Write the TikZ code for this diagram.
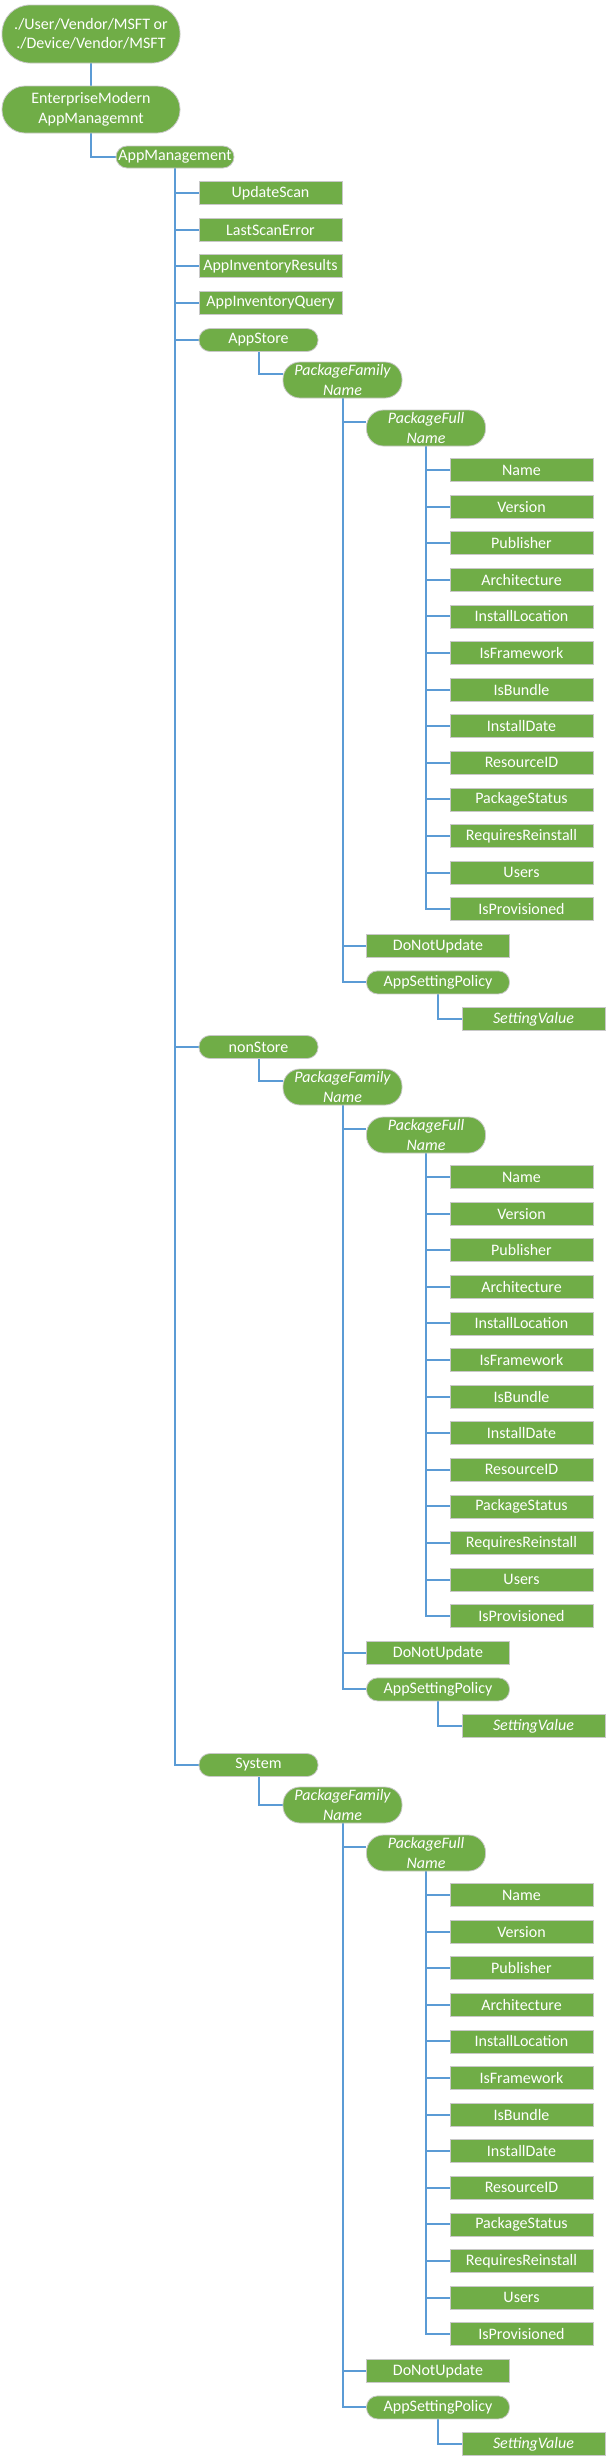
\documentclass[tikz,border=0pt]{standalone}
\usepackage{fontspec}
\setmainfont{Carlito}
\usepackage{tikz}
\usetikzlibrary{backgrounds}

\definecolor{nodegreen}{RGB}{112,173,71}
\definecolor{nodeedge}{RGB}{200,200,200}
\definecolor{linkblue}{RGB}{91,155,213}

\tikzset{
  box/.style={draw=nodeedge, line width=0.8pt, fill=nodegreen, text=white, inner sep=0pt,
    minimum width=143pt, minimum height=23pt, align=center, font=\fontsize{16}{19.5}\selectfont},
  pill/.style={box, rounded corners=11pt, minimum width=119pt},
  tallpill/.style={pill, minimum height=36pt, rounded corners=17pt, font=\fontsize{16}{19.5}\selectfont\itshape},
  link/.style={draw=linkblue, line width=2pt},
}

\begin{document}
\begin{tikzpicture}[x=1pt, y=-1pt]
        \useasboundingbox (0,0) rectangle (607,2463);
        % top of the tree
        \node[pill, minimum width=178pt, minimum height=58pt, rounded corners=28pt] (root) at (91,34) {./User/Vendor/MSFT or\\./Device/Vendor/MSFT};
        \node[pill, minimum width=178pt, minimum height=47pt, rounded corners=23pt] (ent) at (91,109.5) {EnterpriseModern\\AppManagemnt};
        \node[pill, minimum width=118pt, minimum height=22pt] (appm) at (175,157) {AppManagement};
        \begin{scope}[on background layer]
                \draw[link] (root) -- (ent);
                \draw[link] (ent.south) |- (appm.west);
        \end{scope}
        % plain settings
        \foreach \y/\nm/\txt in {193/scan/UpdateScan, 230/err/LastScanError, 266/invres/AppInventoryResults, 303/invq/AppInventoryQuery} {
                \node[box] (\nm) at (270.5,\y) {\txt};
                \begin{scope}[on background layer]
                        \draw[link] (appm.south) |- (\nm.west);
                \end{scope}
        }
        % three package groups
        \foreach \s/\grp/\txt/\off in {340/store/AppStore/6, 1047/nonstore/nonStore/6, 1765/system/System/0} {
                \node[pill] (\grp) at (258.5,\s) {\txt};
                \node[tallpill] (\grp-fam) at (342.5,\s+40) {PackageFamily\\Name};
                \node[tallpill] (\grp-full) at (426,\s+88) {PackageFull\\Name};
                \foreach \leaf [count=\k from 0] in {Name, Version, Publisher, Architecture, InstallLocation, IsFramework, IsBundle, InstallDate, ResourceID, PackageStatus, RequiresReinstall, Users, IsProvisioned} {
                        \node[box] (\grp-leaf\k) at (521.5,\s+130+36.6*\k) {\leaf};
                        \begin{scope}[on background layer]
                                \draw[link] (\grp-full.south) |- (\grp-leaf\k.west);
                        \end{scope}
                }
                \node[box] (\grp-dnu) at (438,\s+130+36.6*13) {DoNotUpdate};
                \node[pill, minimum width=143pt] (\grp-asp) at (438,\s+130+36.6*14) {AppSettingPolicy};
                \node[box, font=\fontsize{16}{19.5}\selectfont\itshape] (\grp-val) at (533.5,\s+130+36.6*15) {SettingValue};
                \begin{scope}[on background layer]
                        \draw[link] (appm.south) |- (\grp.west);
                        \draw[link] (\grp.south) |- ([yshift=\off pt]\grp-fam.west);
                        \draw[link] (\grp-fam.south) |- ([yshift=6pt]\grp-full.west);
                        \draw[link] (\grp-fam.south) |- (\grp-dnu.west);
                        \draw[link] (\grp-fam.south) |- (\grp-asp.west);
                        \draw[link] (\grp-asp.south) |- (\grp-val.west);
                \end{scope}
        }
\end{tikzpicture}
\end{document}
